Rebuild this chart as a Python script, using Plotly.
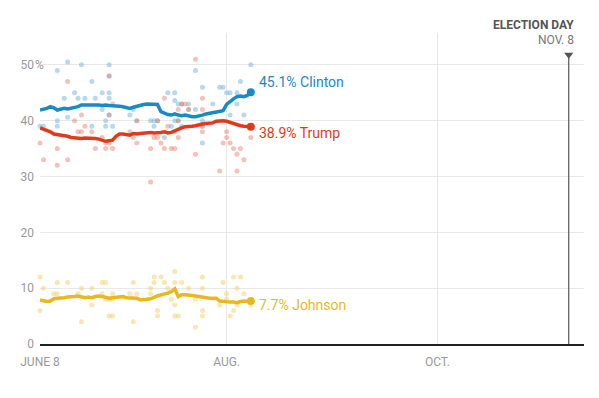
import pandas as pd
import plotly.graph_objects as go

START = pd.Timestamp("2016-06-08")

# Trend lines: daily values, day offset from June 8
trend_days = list(range(62))
clinton_trend = [41.9, 42.0, 42.2, 42.5, 42.3, 41.9, 42.0, 42.2, 42.1, 42.2, 42.3, 42.5, 42.8, 42.8, 42.9,
                 42.9, 42.8, 42.8, 42.7, 42.8, 42.7, 42.7, 42.6, 42.6, 42.5, 42.3, 42.2, 42.4, 42.6, 42.7,
                 42.9, 43.0, 43.0, 43.0, 42.9, 41.6, 41.3, 41.1, 41.0, 41.2, 41.0, 40.9, 41.0, 40.8, 40.7,
                 40.7, 40.8, 41.0, 41.2, 41.3, 41.4, 41.5, 41.6, 41.8, 42.9, 43.5, 43.9, 44.3, 44.4, 44.3,
                 44.5, 45.1]
trump_trend = [38.7, 38.5, 38.2, 38.0, 37.6, 37.5, 37.5, 37.3, 37.2, 37.0, 36.9, 36.9, 36.8, 36.9, 36.9,
               36.8, 36.8, 36.7, 36.5, 36.3, 36.4, 36.5, 37.2, 37.6, 37.6, 37.5, 37.4, 37.7, 37.6, 37.7,
               37.8, 37.8, 37.9, 37.8, 37.8, 37.9, 38.0, 37.8, 37.9, 38.2, 38.4, 38.7, 38.9, 38.9, 39.0,
               39.1, 39.3, 39.4, 39.5, 39.5, 39.6, 39.9, 40.0, 40.0, 39.9, 39.7, 39.4, 39.2, 39.1, 39.0,
               38.9, 38.9]
johnson_trend = [7.9, 7.8, 7.6, 7.7, 8.1, 8.2, 8.2, 8.3, 8.4, 8.4, 8.5, 8.6, 8.4, 8.3, 8.4,
                 8.3, 8.5, 8.6, 8.5, 8.3, 8.2, 8.3, 8.4, 8.5, 8.5, 8.3, 8.3, 8.2, 8.2, 7.9,
                 7.9, 8.0, 8.1, 8.4, 8.6, 8.8, 8.9, 9.1, 9.4, 9.9, 8.5, 8.8, 8.8, 8.8, 8.7,
                 8.6, 8.5, 8.3, 8.2, 8.2, 8.2, 8.2, 7.7, 7.6, 7.6, 7.5, 7.5, 7.4, 7.6, 7.7,
                 7.6, 7.7]

# Individual polls (day offset, value)
clinton_poll_days = [0, 1, 5, 5, 5, 7, 8, 8, 10, 11, 12, 13, 15, 15, 16, 18, 18, 19, 19, 20, 20, 20, 20, 20,
                     21, 26, 27, 28, 32, 33, 33, 34, 36, 37, 38, 39, 39, 39, 40, 40, 41, 41, 43, 43, 45, 45,
                     47, 47, 47, 47, 50, 52, 53, 54, 55, 55, 57, 57, 58, 59, 61]
clinton_poll_vals = [39, 39, 49, 40, 39, 44, 50.5, 40.6, 45, 44, 50, 44, 47, 39, 44, 45, 42, 40, 39, 50, 45, 44, 48, 41,
                     39, 41, 42, 40, 40, 40, 39, 40, 37, 45, 39, 45, 43.6, 40, 43, 40, 39, 43, 43, 42, 49, 42,
                     46, 40, 39, 36, 43, 46, 46, 45, 45, 41, 45, 43, 47, 41, 50]
trump_poll_days = [0, 1, 5, 5, 8, 8, 10, 11, 12, 12, 13, 15, 16, 18, 19, 19, 20, 20, 20, 21, 21, 26, 27, 28, 28,
                   32, 32, 33, 34, 34, 35, 36, 36, 37, 38, 39, 39, 40, 40, 40, 41, 42, 43, 45, 45, 47, 47, 47,
                   47, 52, 53, 54, 54, 55, 56, 57, 57, 58, 59, 61]
trump_poll_vals = [36, 33, 35, 32, 47, 33, 40, 38, 38, 41, 39, 38, 35, 37, 35, 36, 36, 48, 41, 35, 43, 38, 37, 36, 40,
                   35, 29, 37, 37, 40, 36, 44, 35, 39, 35, 38, 35, 42, 37, 40, 43, 43, 42, 51, 34, 44, 42, 39,
                   38, 31, 36, 38, 37, 36, 35, 34, 31, 35, 33, 37]
johnson_poll_days = [0, 0, 1, 4, 5, 5, 8, 11, 12, 12, 15, 15, 18, 19, 18, 19, 20, 21, 20, 21, 21, 26, 27, 27, 28,
                     32, 32, 33, 33, 34, 34, 35, 36, 37, 38, 39, 39, 39, 39, 40, 41, 43, 45, 45, 47, 47, 47, 47,
                     52, 53, 54, 54, 55, 56, 56, 57, 57, 58, 59, 61]
johnson_poll_vals = [12, 6, 10, 9, 9, 11, 11, 9, 10, 4, 10, 7, 11, 11, 9, 8, 8, 8, 5, 5, 9, 9, 11, 4, 9,
                     10, 9, 12, 11, 6, 5, 12, 11, 10, 8, 13, 11, 7, 5, 5, 11, 10, 3, 8, 12, 10, 6, 5,
                     7, 11, 9, 8, 5, 6, 12, 10, 7, 12, 9, 7]

x_tick_vals = ["2016-06-08", "2016-08-01", "2016-10-01"]
x_tick_text = ["JUNE 8", "AUG.", "OCT."]
y_tick_vals = [0, 10, 20, 30, 40, 50]
y_tick_text = ["0", "10", "20", "30", "40", "50"]
election_day = "2016-11-08"

names = ["Clinton", "Trump", "Johnson"]
line_colors = ["#1a8ac4", "#de3a1c", "#e9b81f"]
dot_colors = ["rgba(110,180,220,0.5)", "rgba(232,120,100,0.45)", "rgba(243,205,100,0.5)"]
label_yshift = [10, -6, -4]


def to_dates(days):
    return [START + pd.Timedelta(days=d) for d in days]


fig = go.Figure()
polls = [(clinton_poll_days, clinton_poll_vals), (trump_poll_days, trump_poll_vals),
         (johnson_poll_days, johnson_poll_vals)]
trends = [clinton_trend, trump_trend, johnson_trend]

for i in range(3):
    fig.add_trace(go.Scatter(x=to_dates(polls[i][0]), y=polls[i][1], mode="markers",
                             marker=dict(size=5, color=dot_colors[i], line=dict(width=0)),
                             cliponaxis=False, hoverinfo="skip"))
for i in range(3):
    xs = to_dates(trend_days)
    fig.add_trace(go.Scatter(x=xs, y=trends[i], mode="lines",
                             line=dict(color=line_colors[i], width=3.5), cliponaxis=False))
    fig.add_trace(go.Scatter(x=[xs[-1]], y=[trends[i][-1]], mode="markers",
                             marker=dict(size=8, color=line_colors[i]), cliponaxis=False))
    fig.add_annotation(x=xs[-1], y=trends[i][-1], text=f"{trends[i][-1]:.1f}% {names[i]}",
                       xanchor="left", yanchor="middle", xshift=6, yshift=label_yshift[i],
                       showarrow=False, font=dict(color=line_colors[i], size=14, family="Roboto"))

# Election day marker
fig.add_trace(go.Scatter(x=[election_day, election_day], y=[0, 51.8], mode="lines",
                         line=dict(color="#555555", width=1.2), cliponaxis=False))
fig.add_trace(go.Scatter(x=[election_day], y=[51.8], mode="markers",
                         marker=dict(symbol="triangle-down", size=8, color="#555555"), cliponaxis=False))
fig.add_annotation(x=election_day, y=1, yref="paper", text="<b>ELECTION DAY</b>", xanchor="right",
                   yanchor="middle", xshift=7, yshift=8, showarrow=False,
                   font=dict(color="#555555", size=12, family="Roboto"))
fig.add_annotation(x=election_day, y=1, yref="paper", text="NOV. 8", xanchor="right",
                   yanchor="middle", xshift=7, yshift=-7, showarrow=False,
                   font=dict(color="#777777", size=12, family="Roboto"))
fig.add_annotation(x=0, xref="paper", y=50, text="%", xanchor="left", yanchor="middle",
                   xshift=-7, showarrow=False, font=dict(color="#999999", size=12, family="Roboto"))

# The page body has an 8px default margin, so the figure is offset by 8px.
fig.update_layout(
    width=591, height=390, showlegend=False,
    margin=dict(l=25, r=15, t=25, b=54),
    paper_bgcolor="white", plot_bgcolor="white",
    font=dict(family="Roboto", color="#999999", size=12),
    xaxis=dict(type="date", range=["2016-06-08", "2016-11-12 10:00"], tickvals=x_tick_vals,
               ticktext=x_tick_text, showgrid=True, gridcolor="#e8e8e8", gridwidth=1,
               showline=True, linecolor="#222222", linewidth=1.5, ticks="", zeroline=False,
               tickfont=dict(size=12, color="#999999"), ticklabelstandoff=6),
    yaxis=dict(range=[0, 55.7], tickvals=y_tick_vals, ticktext=y_tick_text, showgrid=True,
               gridcolor="#e8e8e8", gridwidth=1, zeroline=False, ticks="",
               tickfont=dict(size=12, color="#999999"), ticklabelstandoff=5),
)

fig.write_html("out.html")
